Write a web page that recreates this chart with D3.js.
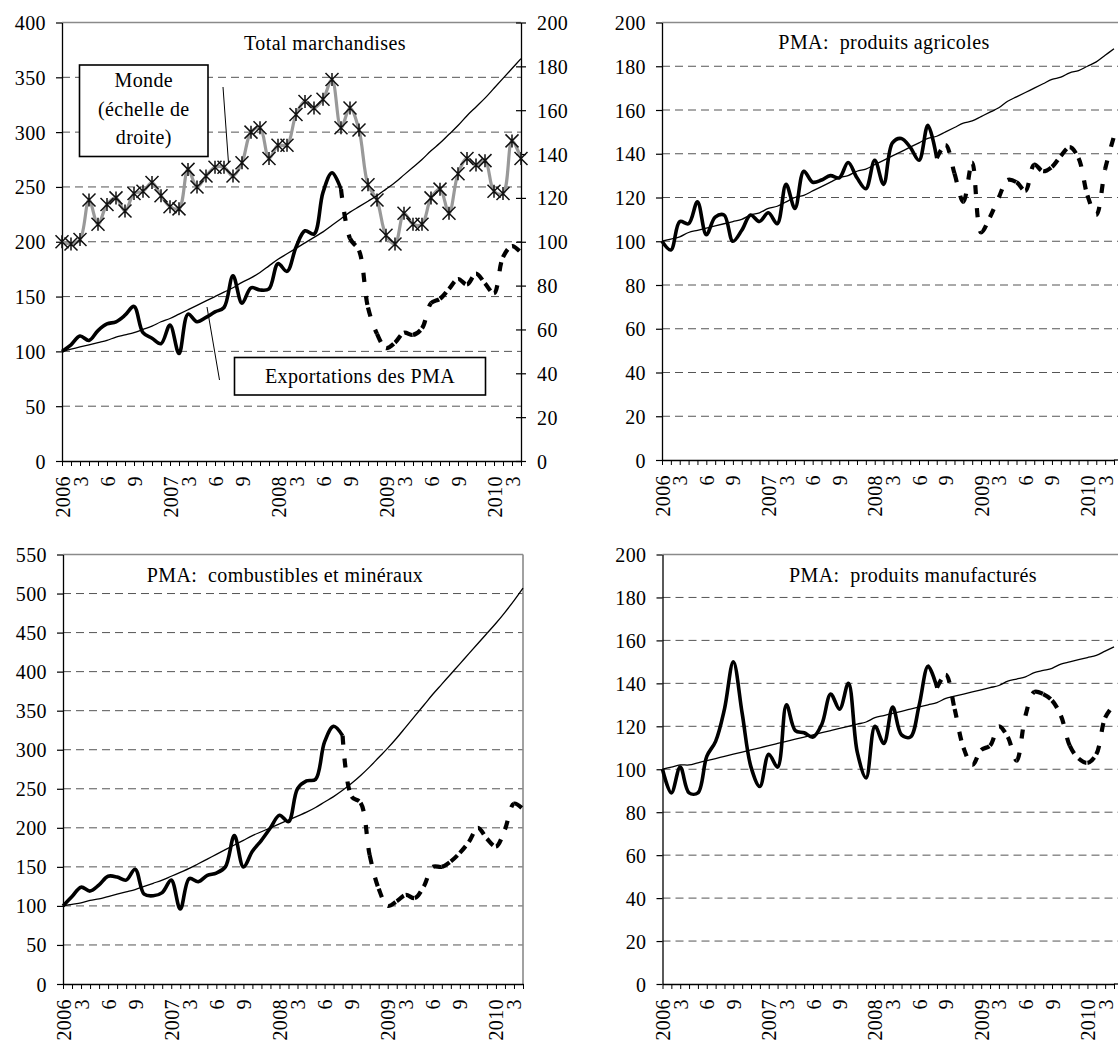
<!DOCTYPE html>
<html>
<head>
<meta charset="utf-8">
<script src="https://cdn.jsdelivr.net/npm/d3@7"></script>
<style>
  body { margin: 0; background: #fff; }
  text { font-family: "Liberation Serif", "Times New Roman", serif; }
</style>
</head>
<body>
<script>
// months Jan 2006 .. Apr 2010, one label every quarter
var tickLabels = ["2006","","3","","","6","","","9","","","",
  "2007","","3","","","6","","","9","","","",
  "2008","","3","","","6","","","9","","","",
  "2009","","3","","","6","","","9","","","",
  "2010","","3",""];

var ticksTotal = [0,50,100,150,200,250,300,350,400];
var ticksRight = [0,20,40,60,80,100,120,140,160,180,200];
var ticks200 = [0,20,40,60,80,100,120,140,160,180,200];
var ticks550 = [0,50,100,150,200,250,300,350,400,450,500,550];

// Total marchandises
var monde = [100,99,101,119,108,117,120,114,122,123,127,121,116,115,133,125,130,134,134,130,136,150,152,138,144,144,158,164,161,165,174,152,161,151,126,119,103,99,113,108,108,120,124,113,131,138,135,137,123,122,146,138];
var totalSolid = [100,106,114,110,119,125,127,133,141,117,112,107,124,98,134,127,131,136,140,169,144,158,156,157,180,173,195,210,207,245,263,248];
var totalDash = [248,203,192,140,116,103,108,117,115,121,144,148,157,166,161,171,162,153,186,196,190];
var totalTrend = [100,102,104,106,108,110,113,115,117,120,123,127,130,134,138,142,146,150,154,158,163,167,172,178,184,189,194,199,204,209,215,221,227,232,237,242,248,254,261,268,275,283,290,298,306,315,323,331,340,349,358,367];

// produits agricoles
var agriSolid = [100,96,109,108,118,103,111,112,100,105,112,109,113,108,126,115,132,127,128,130,129,136,129,124,137,126,145,147,143,137,153,138];
var agriDash = [138,144,131,118,136,104,111,120,128,127,123,135,132,134,139,143,138,121,112,133,148];
var agriTrend = [100,101,102,104,105,106,107,108,109,110,112,113,115,116,118,120,121,123,125,127,129,130,132,133,135,137,139,141,143,145,147,148,150,152,154,155,157,159,161,164,166,168,170,172,174,175,177,178,180,182,185,188];

// combustibles et minéraux
var fuelSolid = [100,112,124,119,127,138,137,133,147,115,113,117,133,96,135,131,139,142,150,190,150,170,184,200,216,208,250,260,262,310,330,318];
var fuelDash = [318,240,232,165,122,100,106,114,110,125,150,150,157,168,182,200,186,176,198,231,224];
var fuelTrend = [100,102,104,107,109,112,115,118,121,125,129,133,138,143,148,154,160,166,172,178,184,190,195,200,205,210,215,220,226,233,240,248,257,267,278,290,302,315,329,343,357,371,384,397,410,423,436,449,462,476,491,507];

// produits manufacturés
var manufSolid = [100,89,101,89,89,106,113,128,150,126,101,92,107,101,130,118,117,115,121,135,128,140,108,96,120,112,129,116,115,130,148,138];
var manufDash = [138,144,128,110,102,109,111,120,115,104,125,136,135,132,125,111,105,103,107,124,130];
var manufTrend = [100,101,102,102,103,104,105,106,107,108,109,110,111,112,113,114,115,116,117,118,119,120,121,122,124,125,126,127,128,129,130,131,133,134,135,136,137,138,139,141,142,143,145,146,147,149,150,151,152,153,155,157];

var dashStart = 31;
var FS = 20;

var svg = d3.select("body").append("svg")
  .attr("width", 1118).attr("height", 1051);

svg.append("rect").attr("width", 1118).attr("height", 1051).attr("fill", "#fff");

// right-hand panels run off the page edge: grid and top border go to the edge
var panels = [
  {left: 62, right: 521, edge: 521, top: 22.5, bottom: 461, ticks: ticksTotal, title: "Total marchandises", tx: 325, ty: 50,
   solid: totalSolid, dash: totalDash, trend: totalTrend, world: monde},
  {left: 662, right: 1114, edge: 1118, top: 22.5, bottom: 460, ticks: ticks200, title: "PMA:  produits agricoles", tx: 884, ty: 48.5,
   solid: agriSolid, dash: agriDash, trend: agriTrend},
  {left: 63, right: 523, edge: 523, top: 554.5, bottom: 984, ticks: ticks550, title: "PMA:  combustibles et minéraux", tx: 285, ty: 581.5,
   solid: fuelSolid, dash: fuelDash, trend: fuelTrend, border: true},
  {left: 662.5, right: 1114, edge: 1118, top: 554.5, bottom: 984, ticks: ticks200, title: "PMA:  produits manufacturés", tx: 913, ty: 581.5,
   solid: manufSolid, dash: manufDash, trend: manufTrend}
];

function styleText(sel) {
  sel.attr("font-size", FS).attr("fill", "#000").style("letter-spacing", "0.4px");
}

// split a smoothed path so the dash pattern restarts at every data point
function splitSegments(d) {
  var cmds = d.match(/[MLC][^MLC]*/g);
  var start = cmds[0].slice(1);
  var segs = [];
  for (var k = 1; k < cmds.length; k++) {
    segs.push("M" + start + cmds[k]);
    var nums = cmds[k].slice(1).split(",");
    start = nums[nums.length - 2] + "," + nums[nums.length - 1];
  }
  return segs;
}

function drawPanel(p) {
  var g = svg.append("g");
  var x = d3.scalePoint().domain(d3.range(tickLabels.length)).range([p.left, p.right]);
  var ymax = p.ticks[p.ticks.length - 1];
  var y = d3.scaleLinear().domain([0, ymax]).range([p.bottom, p.top]);

  // dashed grid
  g.append("g").selectAll("line")
    .data(p.ticks.filter(function (t) { return t > 0 && t < ymax; }))
    .enter().append("line")
    .attr("x1", p.left).attr("x2", p.edge)
    .attr("y1", function (d) { return y(d); }).attr("y2", function (d) { return y(d); })
    .attr("stroke", "#555").attr("stroke-width", 1).attr("stroke-dasharray", "8,5");

  // plot area border (top and right)
  g.append("line").attr("x1", p.left).attr("x2", p.edge).attr("y1", p.top).attr("y2", p.top)
    .attr("stroke", "#8a8a8a").attr("stroke-width", 1.6);
  if (p.border) {
    g.append("line").attr("x1", p.right).attr("x2", p.right).attr("y1", p.top).attr("y2", p.bottom)
      .attr("stroke", "#8a8a8a").attr("stroke-width", 1.6);
  }

  // left axis
  var ay = g.append("g").attr("transform", "translate(" + p.left + ",0)")
    .call(d3.axisLeft(y).tickValues(p.ticks).tickSize(6).tickPadding(10).tickSizeOuter(0));
  ay.select(".domain").attr("stroke", "#000").attr("stroke-width", 1.3);
  ay.selectAll(".tick line").attr("stroke", "#000").attr("stroke-width", 1.2);
  ay.selectAll("text").call(styleText).attr("dy", "0.35em");

  // bottom axis
  var ax = g.append("g").attr("transform", "translate(0," + p.bottom + ")")
    .call(d3.axisBottom(x).tickSize(5).tickSizeOuter(0).tickFormat(function (i) { return tickLabels[i]; }));
  ax.select(".domain").attr("stroke", "#000").attr("stroke-width", 1.3);
  if (p.edge > p.right) {
    g.append("line").attr("x1", p.right).attr("x2", p.edge).attr("y1", p.bottom).attr("y2", p.bottom)
      .attr("stroke", "#000").attr("stroke-width", 1.3);
  }
  ax.selectAll(".tick line").attr("stroke", "#000").attr("stroke-width", 1);
  ax.selectAll("text").call(styleText)
    .attr("transform", "rotate(-90)")
    .attr("text-anchor", "end")
    .attr("x", -15).attr("y", 0).attr("dy", "0.35em");

  var curve = d3.curveCatmullRom.alpha(0.5);

  // world series, right scale
  if (p.world) {
    var yr = d3.scaleLinear().domain([0, ticksRight[ticksRight.length - 1]]).range([p.bottom, p.top]);
    var ar = g.append("g").attr("transform", "translate(" + p.right + ",0)")
      .call(d3.axisRight(yr).tickValues(ticksRight).tickSize(5).tickPadding(11).tickSizeOuter(0));
    ar.select(".domain").attr("stroke", "#000").attr("stroke-width", 1.3);
    ar.selectAll(".tick line").attr("x1", -5).attr("x2", 5).attr("stroke", "#000").attr("stroke-width", 1.2);
    ar.selectAll("text").call(styleText).attr("dy", "0.35em");

    var wl = d3.line().x(function (d, i) { return x(i); }).y(function (d) { return yr(d); }).curve(curve);
    g.append("path").attr("d", wl(p.world)).attr("fill", "none")
      .attr("stroke", "#999").attr("stroke-width", 3.2).attr("stroke-linejoin", "round");
    var s = 6.5;
    var star = "M0," + (-s) + "V" + s + "M" + (-s) + "," + (-s) + "L" + s + "," + s + "M" + s + "," + (-s) + "L" + (-s) + "," + s;
    g.append("g").selectAll("path").data(p.world).enter().append("path")
      .attr("transform", function (d, i) { return "translate(" + x(i) + "," + yr(d) + ")"; })
      .attr("d", star).attr("fill", "none").attr("stroke", "#111").attr("stroke-width", 1.5);
  }

  // trend
  var tl = d3.line().x(function (d, i) { return x(i); }).y(function (d) { return y(d); }).curve(curve);
  g.append("path").attr("d", tl(p.trend)).attr("fill", "none")
    .attr("stroke", "#000").attr("stroke-width", 1.3);

  // LDC exports, solid until August 2008
  g.append("path").attr("d", tl(p.solid)).attr("fill", "none")
    .attr("stroke", "#000").attr("stroke-width", 3.6).attr("stroke-linejoin", "round");

  // then dashed
  var dl = d3.line().x(function (d, i) { return x(i + dashStart); }).y(function (d) { return y(d); }).curve(curve);
  g.append("g").selectAll("path").data(splitSegments(dl(p.dash))).enter().append("path")
    .attr("d", function (d) { return d; }).attr("fill", "none")
    .attr("stroke", "#000").attr("stroke-width", 4.2).attr("stroke-dasharray", "9,14");

  // title
  g.append("text").attr("x", p.tx).attr("y", p.ty).attr("text-anchor", "middle")
    .style("white-space", "pre").text(p.title).call(styleText);
}

panels.forEach(drawPanel);

// annotations in the first panel
var note = svg.append("g");
note.append("line").attr("x1", 223).attr("y1", 87).attr("x2", 228.5).attr("y2", 163).attr("stroke", "#000").attr("stroke-width", 1);
note.append("line").attr("x1", 207).attr("y1", 307).attr("x2", 219.5).attr("y2", 380).attr("stroke", "#000").attr("stroke-width", 1);
note.append("rect").attr("x", 79.5).attr("y", 65).attr("width", 128.5).attr("height", 91.5)
  .attr("fill", "#fff").attr("stroke", "#000").attr("stroke-width", 1.6);
[["Monde", 87], ["(échelle de", 115.5], ["droite)", 144]].forEach(function (r) {
  note.append("text").attr("x", 143.8).attr("y", r[1]).attr("text-anchor", "middle").text(r[0]).call(styleText);
});
note.append("rect").attr("x", 234.5).attr("y", 357.5).attr("width", 251).attr("height", 37.5)
  .attr("fill", "#fff").attr("stroke", "#000").attr("stroke-width", 1.6);
note.append("text").attr("x", 360).attr("y", 383).attr("text-anchor", "middle").text("Exportations des PMA").call(styleText);
</script>
</body>
</html>
